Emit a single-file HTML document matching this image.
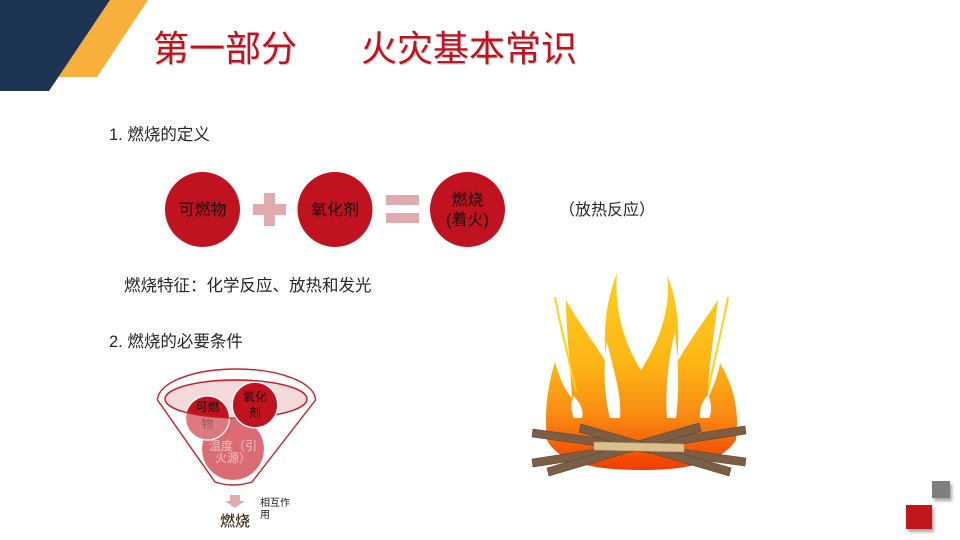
<!DOCTYPE html>
<html>
<head>
<meta charset="utf-8">
<style>
  html,body{margin:0;padding:0;background:#fff;}
  #s{position:relative;width:960px;height:540px;overflow:hidden;background:#fff;
     font-family:"Liberation Sans","Noto Sans CJK SC",sans-serif;}
  .t{position:absolute;white-space:nowrap;line-height:1;}
  .c{position:absolute;white-space:nowrap;line-height:1;text-align:center;}
  svg{position:absolute;left:0;top:0;}
</style>
</head>
<body>
<div id="s">
<svg width="960" height="540" viewBox="0 0 960 540">
  <defs>
    <linearGradient id="fg" x1="0" y1="273" x2="0" y2="470" gradientUnits="userSpaceOnUse">
      <stop offset="0" stop-color="#ffd01c"/>
      <stop offset="0.45" stop-color="#fdb716"/>
      <stop offset="0.72" stop-color="#f98b12"/>
      <stop offset="1" stop-color="#f03c00"/>
    </linearGradient>
    <clipPath id="ellClip">
      <ellipse cx="236" cy="399" rx="71" ry="19"/>
    </clipPath>
    <filter id="sh" x="-20%" y="-20%" width="160%" height="160%">
      <feDropShadow dx="2" dy="3" stdDeviation="1.5" flood-color="#000" flood-opacity="0.35"/>
    </filter>
  </defs>

  <!-- top-left decoration -->
  <polygon points="110,0 148,0 97,77 58,77" fill="#f8b03c"/>
  <polygon points="0,0 110,0 49,91 0,91" fill="#1e3454"/>

  <!-- definition row -->
  <circle cx="202.5" cy="209.5" r="37.5" fill="#c1131f"/>
  <circle cx="335" cy="209.5" r="37.5" fill="#c1131f"/>
  <circle cx="467.5" cy="209.5" r="37.5" fill="#c1131f"/>
  <!-- plus -->
  <rect x="253" y="204" width="33" height="11" fill="#e0abaf"/>
  <rect x="264" y="193" width="11" height="33" fill="#e0abaf"/>
  <!-- equals -->
  <rect x="386" y="195" width="33" height="10" fill="#e0abaf"/>
  <rect x="386" y="213" width="33" height="10" fill="#e0abaf"/>

  <!-- funnel -->
  <path d="M157.5,400 A79,31 0 0 1 315.5,400 L252,482 Q233,488 215,482 Z" fill="none" stroke="#c9202c" stroke-width="1.4"/>
  <ellipse cx="236" cy="399" rx="71" ry="19" fill="#f3d9da" stroke="#c9202c" stroke-width="1.4"/>
  <circle cx="233" cy="449" r="31.5" fill="#db6c74" stroke="#fff" stroke-width="1.2"/>
  <circle cx="207.5" cy="418" r="22" fill="#dc7a80" stroke="#fff" stroke-width="1.2"/>
  <g clip-path="url(#ellClip)">
    <circle cx="207.5" cy="418" r="21.4" fill="#c1131f"/>
  </g>
  <ellipse cx="236" cy="399" rx="71" ry="19" fill="none" stroke="#c9202c" stroke-width="1.2"/>
  <circle cx="255" cy="405" r="22.8" fill="#c1131f" stroke="#fff" stroke-width="1.4"/>

  <!-- down arrow -->
  <polygon points="230,495 240,495 240,501 245,501 235,508 225,501 230,501" fill="#e0abaf"/>

  <!-- fire -->
  <path d="M547,440 C544,410 548,385 555,362 C560,380 566,392 572,398 C570,360 566,330 566,300 C580,325 596,345 606,362 C603,330 606,300 617,273 C614,310 625,345 641,370 C657,345 672,310 667,275 C678,300 680,330 677,362 C690,340 706,318 718,300 C714,335 708,370 708,398 C714,385 718,375 720,363 C733,385 740,410 736,440 C720,465 680,470 642,470 C600,470 560,465 547,440 Z" fill="url(#fg)"/>
  <path d="M555,297 C560,325 568,355 576,392" fill="none" stroke="#ffd21a" stroke-width="2"/>
  <path d="M728,297 C722,330 714,360 708,392" fill="none" stroke="#ffd21a" stroke-width="2"/>
  <!-- white cutouts -->
  <path d="M574,418 C570,408 571,401 574,396 C580,403 584,410 582,418 Z" fill="#fff"/>
  <path d="M610,418 C604,395 603,365 607,342 C613,368 622,395 620,418 Z" fill="#fff"/>
  <path d="M667,418 C665,392 668,360 675,332 C679,365 679,395 676,418 Z" fill="#fff"/>
  <path d="M700,418 C699,408 703,400 708,395 C712,404 712,412 709,418 Z" fill="#fff"/>
  <!-- logs -->
  <g fill="#7b5e44" stroke="#5e4530" stroke-width="0.6">
    <polygon points="533,429 746,458 745,466 532,437"/>
    <polygon points="532,459 745,426 746,434 533,467"/>
    <polygon points="547,468 699,423 701,431 549,476"/>
    <polygon points="581,424 731,468 729,476 579,432"/>
  </g>
  <polygon points="594,442 684,444 684,452 594,450" fill="#d9c08c" stroke="#b89d6a" stroke-width="0.6"/>

  <!-- bottom-right squares -->
  <rect x="932" y="481" width="18" height="17" fill="#7f7f7f" filter="url(#sh)"/>
  <rect x="906" y="505" width="26" height="24" fill="#c1131f" filter="url(#sh)"/>
</svg>

<!-- title -->
<div class="t" style="left:153px;top:31px;font-size:36px;color:#c1131f;text-shadow:1px 1px 1px rgba(0,0,0,0.22);">第一部分</div>
<div class="t" style="left:361px;top:31px;font-size:36px;color:#c1131f;text-shadow:1px 1px 1px rgba(0,0,0,0.22);">火灾基本常识</div>

<!-- body text -->
<div class="t" style="left:109px;top:127px;font-size:16.5px;color:#262626;">1. 燃烧的定义</div>
<div class="t" style="left:124px;top:278px;font-size:16.5px;color:#262626;">燃烧特征：化学反应、放热和发光</div>
<div class="t" style="left:109px;top:334px;font-size:16.5px;color:#262626;">2. 燃烧的必要条件</div>
<div class="t" style="left:559px;top:203px;font-size:16px;color:#262626;">（放热反应）</div>

<!-- circle labels -->
<div class="c" style="left:162.5px;width:80px;top:202.5px;font-size:16px;color:#111;">可燃物</div>
<div class="c" style="left:295px;width:80px;top:202.5px;font-size:16px;color:#111;">氧化剂</div>
<div class="c" style="left:427.5px;width:80px;top:193px;font-size:16px;color:#111;">燃烧</div>
<div class="c" style="left:427.5px;width:80px;top:213px;font-size:16px;color:#111;">(着火)</div>

<!-- funnel labels -->
<div class="c" style="left:187.5px;width:40px;top:400.5px;font-size:12px;color:#111;">可燃</div>
<div class="c" style="left:187.5px;width:40px;top:417.5px;font-size:12px;color:#9a5a5f;">物</div>
<div class="c" style="left:235px;width:40px;top:390.5px;font-size:12px;color:#111;">氧化</div>
<div class="c" style="left:235px;width:40px;top:406.5px;font-size:12px;color:#111;">剂</div>
<div class="c" style="left:203px;width:60px;top:439.5px;font-size:12px;color:#efc2c5;">温度（引</div>
<div class="c" style="left:203px;width:60px;top:451.5px;font-size:12px;color:#efc2c5;">火源）</div>

<!-- bottom labels -->
<div class="t" style="left:220px;top:513.5px;font-size:15px;color:#222;text-shadow:0 0 1px #f3a060;">燃烧</div>
<div class="t" style="left:260px;top:499px;font-size:10px;color:#222;">相互作</div>
<div class="t" style="left:260px;top:510.5px;font-size:10px;color:#222;">用</div>
</div>
</body>
</html>
